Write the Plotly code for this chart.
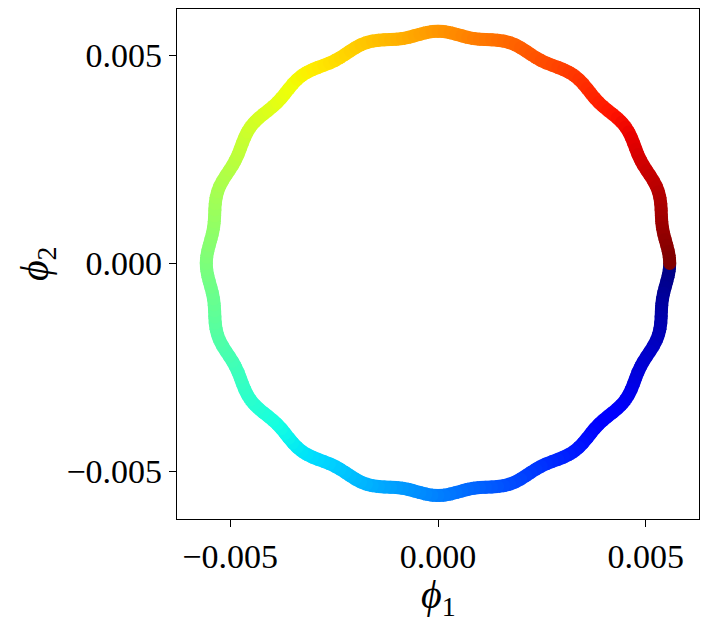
import numpy as np
import plotly.graph_objects as go

# ---- data ----
# The ring has 20 identical bumps; the outward tip of a bump sits on the +phi1 axis.
bump_count = 20
# radius of the curve across one bump (tip -> hollow -> tip), 12 readings per bump
bump_radius = [0.005576, 0.005569, 0.005549, 0.005522, 0.005495, 0.005475,
               0.005468, 0.005475, 0.005495, 0.005522, 0.005549, 0.005569]
# the trajectory runs clockwise: starts at +phi1, goes down through -phi2 first
direction = -1

x_ticks = [-0.005, 0.0, 0.005]
x_tick_text = ["\u22120.005", "0.000", "0.005"]
y_ticks = [-0.005, 0.0, 0.005]
y_tick_text = ["\u22120.005", "0.000", "0.005"]

# ---- build the curve ----
r = np.array(bump_radius * bump_count + [bump_radius[0]])
n_seg = len(r) - 1
theta = 2 * np.pi * np.arange(n_seg + 1) / n_seg
phi1 = r * np.cos(theta)
phi2 = direction * r * np.sin(theta)


def jet(t):
    def interp(pts):
        xs, ys = zip(*pts)
        return float(np.interp(t, xs, ys))
    rr = interp([(0, 0), (0.35, 0), (0.66, 1), (0.89, 1), (1, 0.5)])
    gg = interp([(0, 0), (0.125, 0), (0.375, 1), (0.64, 1), (0.91, 0), (1, 0)])
    bb = interp([(0, 0.5), (0.11, 1), (0.34, 1), (0.65, 0), (1, 0)])
    return "rgb(%d,%d,%d)" % (round(rr * 255), round(gg * 255), round(bb * 255))


LW = 13
fig = go.Figure()
for k in range(n_seg):
    c = jet(k / (n_seg - 1))
    fig.add_trace(go.Scatter(
        x=[phi1[k], phi1[k + 1]], y=[phi2[k], phi2[k + 1]],
        mode="lines", line=dict(color=c, width=LW),
        hoverinfo="skip", showlegend=False))

# round joins between segments (and the round end cap on top of the start)
join_idx = list(range(1, n_seg + 1))
fig.add_trace(go.Scatter(
    x=phi1[join_idx], y=phi2[join_idx], mode="markers",
    marker=dict(size=LW, color=[jet(min(1.0, (i - 0.5) / (n_seg - 1))) for i in join_idx],
                line=dict(width=0)),
    hoverinfo="skip", showlegend=False))

font_family = "Liberation Serif, DejaVu Serif, serif"
axis_common = dict(
    tickmode="array",
    ticks="outside", ticklen=7, tickwidth=1, tickcolor="black",
    showline=True, mirror=True, linecolor="black", linewidth=1.2,
    showgrid=False, zeroline=False, automargin=False,
    tickfont=dict(size=34, family=font_family, color="black"),
)
fig.update_layout(
    width=709, height=625,
    margin=dict(l=177, r=10, t=9, b=106),
    paper_bgcolor="white", plot_bgcolor="white",
    font=dict(family=font_family, size=34, color="black"),
    xaxis=dict(range=[-0.00628, 0.00628], tickvals=x_ticks, ticktext=x_tick_text,
               **axis_common),
    yaxis=dict(range=[-0.00614, 0.00611], tickvals=y_ticks, ticktext=y_tick_text,
               **axis_common),
    annotations=[
        dict(text="<i>\u03d5</i><sub>1</sub>", xref="paper", yref="paper",
             x=0.5, y=-0.152, xanchor="center", yanchor="middle", showarrow=False,
             font=dict(size=40, family=font_family, color="black")),
        dict(text="<i>\u03d5</i><sub>2</sub>", xref="paper", yref="paper",
             x=-0.268, y=0.5, xanchor="center", yanchor="middle", showarrow=False,
             textangle=-90, font=dict(size=40, family=font_family, color="black")),
    ],
)

fig.write_html("out.html",
               config={"displayModeBar": False},
               post_script="document.body.style.margin='0px';"
                           "document.body.style.overflow='hidden';")
